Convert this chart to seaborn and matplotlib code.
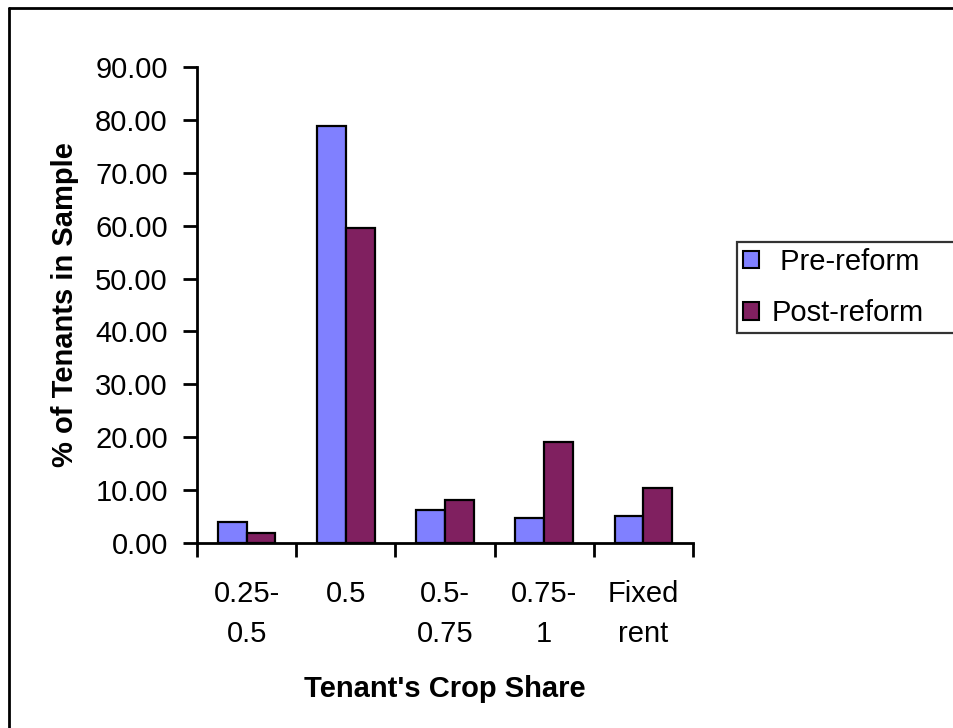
import numpy as np
import pandas as pd
import matplotlib
matplotlib.use("Agg")
import matplotlib.pyplot as plt
from matplotlib.lines import Line2D
from matplotlib.ticker import FixedLocator, FormatStrFormatter
import seaborn as sns

# Share of tenants by crop-share arrangement, before and after the reform
categories = ["0.25-\n0.5", "0.5", "0.5-\n0.75", "0.75-\n1", "Fixed\nrent"]
pre_reform = [4.0, 78.8, 6.2, 4.7, 5.1]
post_reform = [1.8, 59.6, 8.1, 19.1, 10.4]
series_names = [" Pre-reform", "Post-reform"]
y_ticks = [0, 10, 20, 30, 40, 50, 60, 70, 80, 90]

df = pd.DataFrame({
    "share": categories * 2,
    "pct": pre_reform + post_reform,
    "period": [series_names[0]] * len(categories) + [series_names[1]] * len(categories),
})

sns.set_style("white")
plt.rcParams["font.family"] = ["Liberation Sans", "DejaVu Sans"]
plt.rcParams["text.color"] = "black"
plt.rcParams["axes.labelcolor"] = "black"
plt.rcParams["xtick.color"] = "black"
plt.rcParams["ytick.color"] = "black"

FS = 21
W, H = 954, 728
fig = plt.figure(figsize=(W / 100, H / 100), dpi=100)
ax = fig.add_axes([197 / W, 1 - 543 / H, (693 - 197) / W, (543 - 67) / H])

palette = {series_names[0]: "#8080FF", series_names[1]: "#802060"}
sns.barplot(data=df, x="share", y="pct", hue="period", order=categories,
            hue_order=series_names, palette=palette, width=0.58, dodge=True,
            edgecolor="black", linewidth=1.6, saturation=1, errorbar=None, ax=ax)

ax.set_xlim(-0.5, len(categories) - 0.5)
ax.set_ylim(0, 90)
ax.yaxis.set_major_locator(FixedLocator(y_ticks))
ax.yaxis.set_major_formatter(FormatStrFormatter("%.2f"))

# tick marks sit on category boundaries, labels at the centers
ax.xaxis.set_minor_locator(FixedLocator(np.arange(-0.5, len(categories), 1.0)))
ax.tick_params(axis="x", which="major", bottom=True, length=0, pad=27,
               labelsize=FS, labelcolor="black")
ax.tick_params(axis="x", which="minor", bottom=True, length=10, width=2,
               direction="out", color="black")
ax.tick_params(axis="y", which="major", left=True, length=10, width=2, direction="out",
               color="black", pad=11, labelsize=FS, labelcolor="black")
for lab in ax.get_xticklabels():
    lab.set_linespacing(1.5)
    lab.set_verticalalignment("top")

for side in ["top", "right"]:
    ax.spines[side].set_visible(False)
for side in ["left", "bottom"]:
    ax.spines[side].set_color("black")
    ax.spines[side].set_linewidth(2)

ax.set_xlabel("Tenant's Crop Share", fontsize=FS, fontweight="bold", labelpad=20,
              color="black")
ax.set_ylabel("% of Tenants in Sample", fontsize=FS, fontweight="bold", labelpad=12,
              color="black")
ax.grid(False)

ax.get_legend().remove()
handles = [plt.Rectangle((0, 0), 1, 1, facecolor=palette[n], edgecolor="black", linewidth=1.5)
           for n in series_names]
leg = fig.legend(handles, series_names, loc="upper left",
                 bbox_to_anchor=(737 / W, 1 - 242 / H, (962 - 737) / W, 0.0),
                 mode="expand", frameon=True, fancybox=False, fontsize=FS,
                 handlelength=0.55, handleheight=0.55, handletextpad=0.45,
                 labelspacing=0.8, borderpad=0.2, borderaxespad=0)
leg.get_frame().set_edgecolor("black")
leg.get_frame().set_linewidth(1.6)

# chart-area border (left and top edges)
fig.add_artist(Line2D([9 / W, 9 / W], [1 - 8 / H, 0], transform=fig.transFigure,
                      color="black", linewidth=2))
fig.add_artist(Line2D([9 / W, 1], [1 - 8 / H, 1 - 8 / H], transform=fig.transFigure,
                      color="black", linewidth=2))

fig.savefig("out.png", dpi=100, facecolor="white")
